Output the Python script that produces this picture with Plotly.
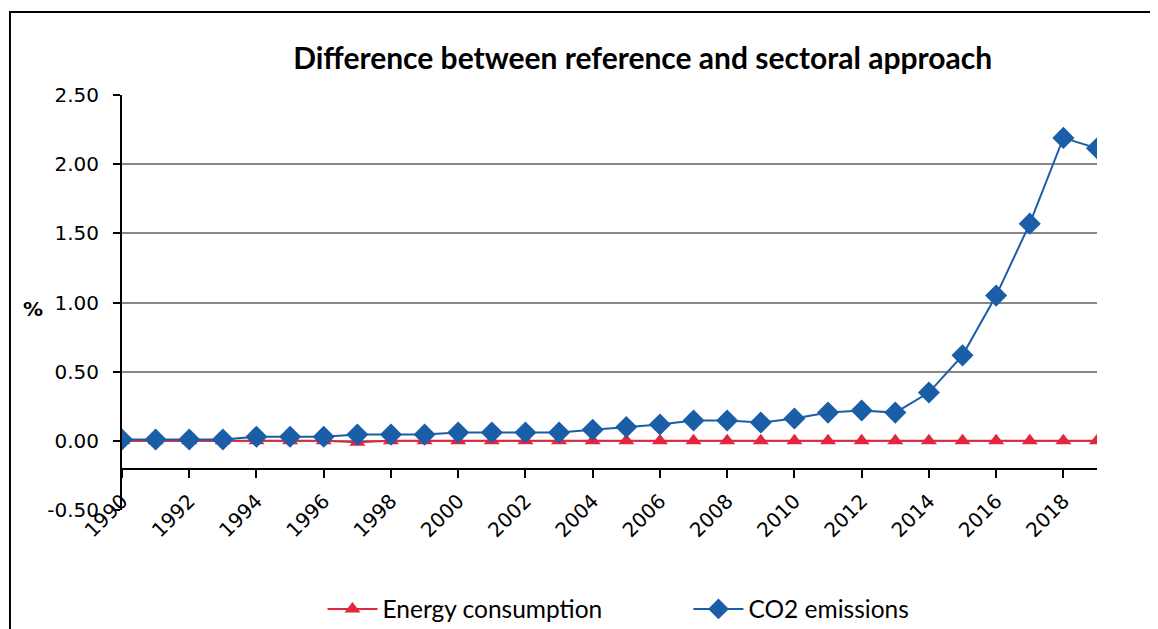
import plotly.graph_objects as go

years = list(range(1990, 2020))
energy = [0.00, 0.00, 0.00, 0.00, 0.00, 0.00, 0.00, -0.01, 0.00, 0.00,
          0.00, 0.00, 0.00, 0.00, 0.00, 0.00, 0.00, 0.00, 0.00, 0.00,
          0.00, 0.00, 0.00, 0.00, 0.00, 0.00, 0.00, 0.00, 0.00, 0.00]
co2 = [0.01, 0.01, 0.01, 0.01, 0.03, 0.03, 0.03, 0.045, 0.045, 0.045,
       0.06, 0.06, 0.06, 0.06, 0.08, 0.10, 0.118, 0.147, 0.147, 0.132,
       0.161, 0.204, 0.219, 0.204, 0.349, 0.618, 1.05, 1.57, 2.19, 2.115]
ytick_vals = [-0.5, 0.0, 0.5, 1.0, 1.5, 2.0, 2.5]
ytick_text = ["-0.50", "0.00", "0.50", "1.00", "1.50", "2.00", "2.50"]

BLUE = "#1B5EA8"
RED = "#E2263D"

fig = go.Figure()
fig.add_trace(go.Scatter(x=years, y=energy, name="Energy consumption", mode="lines+markers",
                         line=dict(color=RED, width=2),
                         marker=dict(symbol="triangle-up", size=14, color=RED)))
fig.add_trace(go.Scatter(x=years, y=co2, name="CO2 emissions", mode="lines+markers",
                         line=dict(color=BLUE, width=2),
                         marker=dict(symbol="diamond", size=17, color=BLUE)))

tickfont = dict(family="DejaVu Sans", size=20, color="black")

fig.update_layout(
    width=1150, height=621,
    margin=dict(l=114, r=61, t=87, b=119, autoexpand=False),
    paper_bgcolor="white", plot_bgcolor="white",
    title=dict(text="<b>Difference between reference and sectoral approach</b>",
               x=0.534, xref="paper", xanchor="center", y=1 - 50 / 621, yanchor="middle",
               font=dict(family="Lato", size=30, color="black")),
    xaxis=dict(range=[1990, 2019], showgrid=False, showline=False, zeroline=False,
               showticklabels=False, ticks=""),
    xaxis2=dict(range=[1990, 2019], overlaying="x", anchor="free", position=0.1, side="bottom",
                showgrid=False, zeroline=False, showline=True, linecolor="black", linewidth=2,
                ticks="outside", ticklen=8, tickwidth=2, tickcolor="black",
                tick0=1990, dtick=2, tickangle=-45, tickfont=tickfont, ticklabelstandoff=4),
    yaxis=dict(range=[-0.5, 2.5], tickvals=ytick_vals, ticktext=ytick_text,
               showgrid=True, gridcolor="#d9d9d9", gridwidth=1.5, zeroline=False,
               showline=True, linecolor="black", linewidth=2,
               ticks="outside", ticklen=7, tickwidth=2, tickcolor="black",
               tickfont=tickfont, ticklabelstandoff=10),
    yaxis2=dict(range=[-0.5, 2.5], overlaying="y", tickvals=[0.0, 0.5, 1.0, 1.5, 2.0],
                showgrid=True, gridcolor="#888888", gridwidth=1.5, zeroline=False,
                showticklabels=False, showline=False, ticks=""),
    legend=dict(orientation="h", x=0.581, xanchor="center", y=1 - 601 / 621, yref="container",
                yanchor="middle",
                font=dict(family="Lato", size=24.5, color="black"), itemwidth=50,
                entrywidth=301, entrywidthmode="pixels", traceorder="normal"),
    showlegend=True,
)

# helper invisible trace so overlay axes are drawn
fig.add_trace(go.Scatter(x=[years[0]], y=[co2[0]], xaxis="x2", yaxis="y2",
                         mode="markers", marker=dict(opacity=0), showlegend=False, hoverinfo="skip"))

fig.add_annotation(text="<b>%</b>", xref="paper", yref="paper", x=-0.104, y=0.485,
                   showarrow=False, font=dict(family="DejaVu Sans", size=20, color="black"))

fig.add_shape(type="rect", xref="paper", yref="paper", x0=-0.1149, y0=-0.4, x1=1.2, y1=1.2,
              line=dict(color="black", width=2), fillcolor="rgba(0,0,0,0)", layer="below")

fig.write_html("out.html")
